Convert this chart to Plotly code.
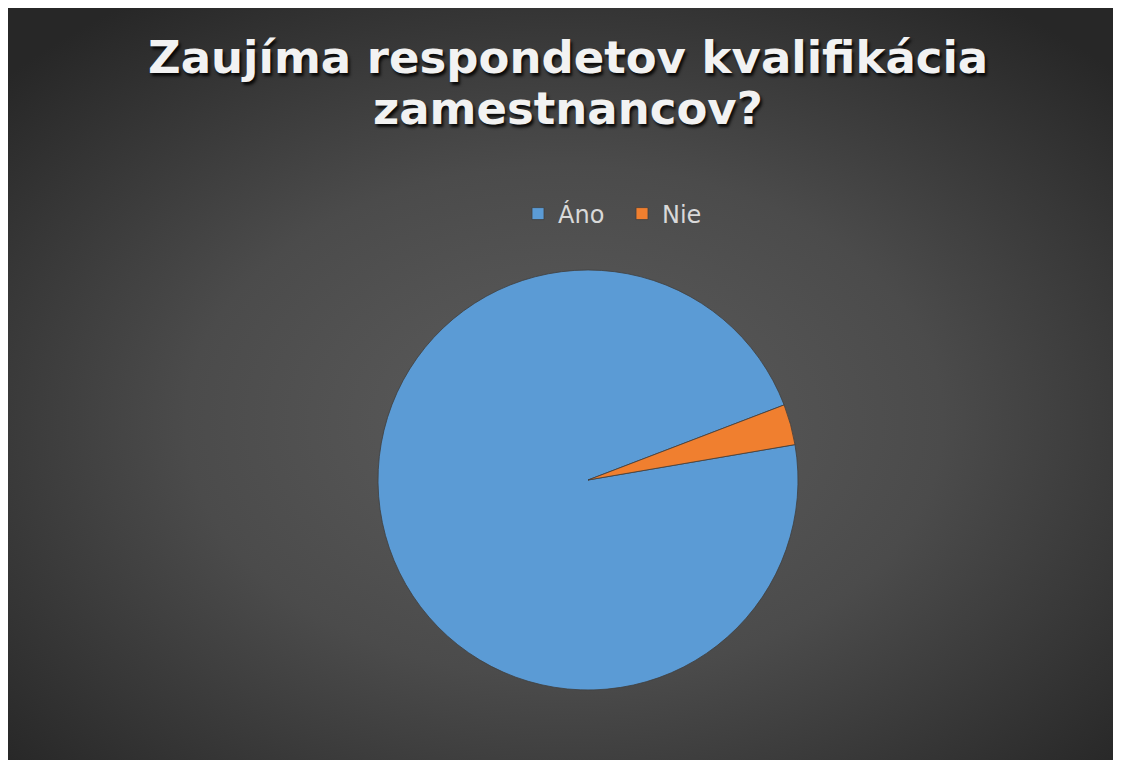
import base64
import plotly.graph_objects as go

# Data
categories = ["Áno", "Nie"]
values = [31, 1]
title_lines = ["Zaujíma respondetov kvalifikácia", "zamestnancov?"]

W, H = 1121, 760


def fx(px):
    return px / W


def fy(py):
    # py measured from top of figure
    return 1 - py / H


# radial gradient background (style only), sized to the visible area
svg = (
    "<svg xmlns='http://www.w3.org/2000/svg' width='1113' height='752' "
    "viewBox='0 0 1113 752' preserveAspectRatio='none'>"
    "<defs><radialGradient id='g' cx='0.5' cy='0.55' r='0.68'>"
    "<stop offset='0' stop-color='#5d5d5d'/>"
    "<stop offset='0.5' stop-color='#4b4b4b'/>"
    "<stop offset='1' stop-color='#272727'/>"
    "</radialGradient></defs>"
    "<rect width='1113' height='752' fill='url(#g)'/></svg>"
)
bg_uri = "data:image/svg+xml;base64," + base64.b64encode(svg.encode()).decode()

fig = go.Figure(
    go.Pie(
        labels=categories,
        values=values,
        sort=False,
        direction="clockwise",
        rotation=80.3,
        textinfo="none",
        hoverinfo="label+value+percent",
        marker=dict(colors=["#5b9bd5", "#f07f2f"], line=dict(color="#3f3f3f", width=0.8)),
        domain=dict(x=[fx(370), fx(790)], y=[fy(682), fy(262)]),
    )
)

fs = 45
title_font = dict(
    family="DejaVu Sans, Liberation Sans, sans-serif",
    size=fs,
    color="#f2f2f2",
    weight="bold",
    shadow="2px 3px 3px rgba(0,0,0,0.85)",
)
baselines = [66, 117]
annotations = []
for line, base in zip(title_lines, baselines):
    annotations.append(
        dict(
            text=line,
            xref="paper",
            yref="paper",
            x=fx(560),
            y=fy(base - 0.36 * fs),
            xanchor="center",
            yanchor="middle",
            showarrow=False,
            font=title_font,
        )
    )

fig.update_layout(
    width=W,
    height=H,
    margin=dict(l=0, r=0, t=0, b=0),
    paper_bgcolor="#2a2a2a",
    plot_bgcolor="rgba(0,0,0,0)",
    images=[
        dict(
            source=bg_uri,
            xref="paper",
            yref="paper",
            x=0,
            y=1,
            sizex=fx(1113),
            sizey=752 / H,
            xanchor="left",
            yanchor="top",
            sizing="stretch",
            layer="below",
        )
    ],
    annotations=annotations,
    legend=dict(
        orientation="h",
        x=fx(510),
        xanchor="left",
        y=fy(206),
        yanchor="middle",
        font=dict(family="DejaVu Sans, Liberation Sans, sans-serif", size=24, color="#d9d9d9"),
        bgcolor="rgba(0,0,0,0)",
        entrywidth=59,
        entrywidthmode="pixels",
    ),
    showlegend=True,
)

fig.write_html(
    "out.html",
    post_script="document.documentElement.style.overflow='hidden';document.body.style.overflow='hidden';",
)
